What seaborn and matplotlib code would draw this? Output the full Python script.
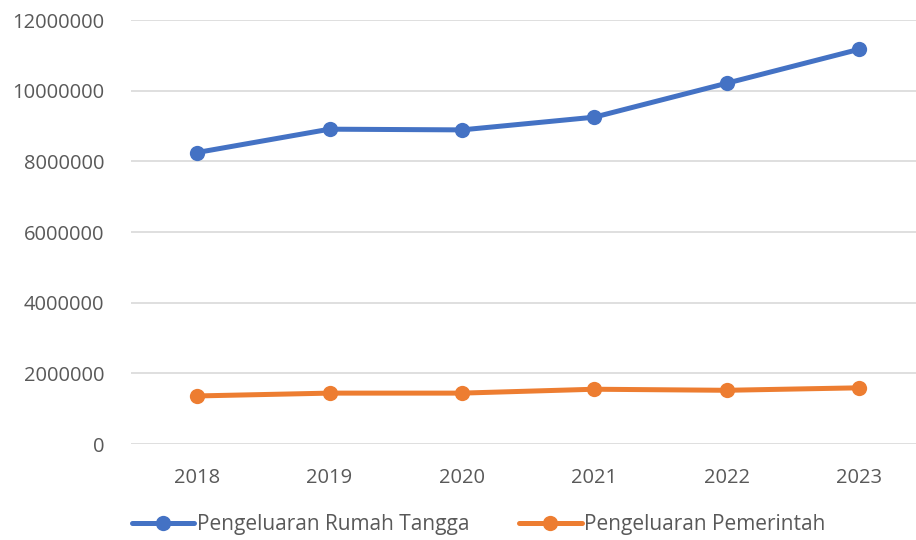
import pandas as pd
import seaborn as sns
import matplotlib.pyplot as plt

# data
tahun = [2018, 2019, 2020, 2021, 2022, 2023]
rumah_tangga = [8250000, 8910000, 8890000, 9250000, 10210000, 11170000]
pemerintah = [1360000, 1440000, 1440000, 1550000, 1520000, 1590000]
series_names = ['Pengeluaran Rumah Tangga', 'Pengeluaran Pemerintah']
colors = ['#4472C4', '#ED7D31']

df = pd.DataFrame({
    'idx': list(range(len(tahun))) * 2,
    'nilai': rumah_tangga + pemerintah,
    'seri': [series_names[0]] * len(tahun) + [series_names[1]] * len(tahun),
})

sns.set_style('white')
plt.rcParams['font.family'] = ['Open Sans', 'DejaVu Sans']

fig = plt.figure(figsize=(9.16, 5.4), dpi=100)
ax = fig.add_axes([131 / 916, 96 / 540, 1 - 131 / 916, 424 / 540])

sns.lineplot(data=df, x='idx', y='nilai', hue='seri', palette=colors,
             marker='o', markersize=11, markeredgewidth=0, linewidth=3.6,
             ax=ax, clip_on=False)

ax.set_xlim(-0.5, (916 - 197) / 132.4)
ax.set_ylim(0, 12000000)
ax.set_yticks(range(0, 12000001, 2000000))
ax.set_yticklabels([str(v) for v in range(0, 12000001, 2000000)])
ax.set_xticks(range(len(tahun)))
ax.set_xticklabels([str(t) for t in tahun])
ax.tick_params(axis='both', colors='#595959', labelsize=14.5, length=0)
ax.tick_params(axis='x', pad=17)
ax.tick_params(axis='y', pad=19)
ax.yaxis.grid(True, color='#D9D9D9', linewidth=1.2)
ax.set_axisbelow(True)
for s in ax.spines.values():
    s.set_visible(False)
ax.set_xlabel('')
ax.set_ylabel('')

leg = ax.legend(loc='center', bbox_to_anchor=(0.5 - 45 / 785, -0.19), ncol=2,
                frameon=False, fontsize=15, handlelength=3.0, handletextpad=0.1,
                columnspacing=2.4)
for t in leg.get_texts():
    t.set_color('#595959')

fig.savefig('out.png', dpi=100)
